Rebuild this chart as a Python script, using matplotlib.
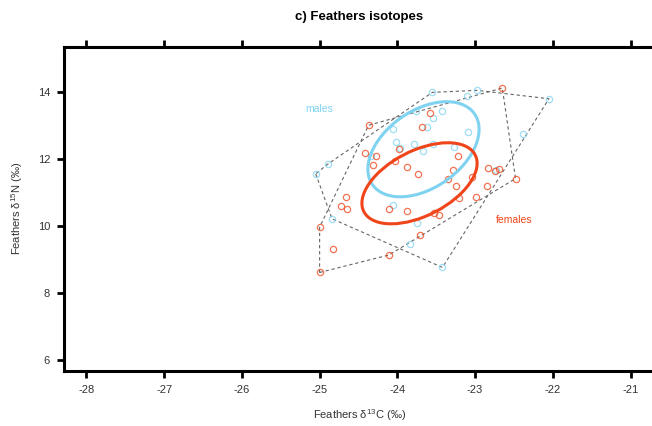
import numpy as np
import matplotlib
matplotlib.use('Agg')
import matplotlib.pyplot as plt
from matplotlib.patches import Ellipse

plt.rcParams['font.family'] = ['Liberation Sans', 'DejaVu Sans']
plt.rcParams['mathtext.fontset'] = 'custom'
plt.rcParams['mathtext.rm'] = 'Liberation Sans'
plt.rcParams['axes.unicode_minus'] = False

# feather isotope values (d13C, d15N) per sex
males_c = [-23.55, -23.11, -22.97, -22.05, -23.76, -23.43, -23.54, -23.62, -24.06,
           -23.09, -22.39, -24.02, -23.79, -23.54, -23.97, -23.27, -23.67, -24.34,
           -24.89, -25.05, -22.73, -24.06, -24.84, -23.75, -23.84, -23.42]
males_n = [13.98, 13.88, 14.04, 13.79, 13.42, 13.42, 13.21, 12.95, 12.89,
           12.80, 12.75, 12.50, 12.45, 12.45, 12.31, 12.34, 12.22, 12.09,
           11.85, 11.55, 11.67, 10.62, 10.21, 10.09, 9.47, 8.76]

females_c = [-22.65, -23.58, -24.37, -23.68, -23.98, -24.41, -24.28, -23.22, -24.03,
             -24.31, -23.88, -23.28, -23.73, -22.84, -22.75, -22.69, -23.35, -23.04,
             -22.48, -23.24, -22.85, -24.66, -23.21, -22.99, -24.72, -24.65, -24.11,
             -23.88, -23.53, -23.46, -25.00, -23.71, -24.83, -24.11, -25.00]
females_n = [14.11, 13.38, 13.00, 12.95, 12.29, 12.16, 12.07, 12.09, 11.93,
             11.80, 11.76, 11.66, 11.56, 11.74, 11.65, 11.69, 11.41, 11.46,
             11.41, 11.19, 11.19, 10.86, 10.84, 10.86, 10.60, 10.50, 10.51,
             10.45, 10.38, 10.33, 9.96, 9.73, 9.32, 9.13, 8.61]

# standard ellipse estimates: centre (d13C, d15N) and covariance (xx, xy, yy)
males_sea_centre = [-23.664, 12.284]
males_sea_cov = [0.5115, 0.424, 2.0106]
females_sea_centre = [-23.715, 11.269]
females_sea_cov = [0.549, 0.44, 1.4616]

col_m = '#7fd3f0'
col_f = '#f0451a'


def convex_hull(pts):
    pts = sorted(map(tuple, pts))

    def cross(o, a, b):
        return (a[0] - o[0]) * (b[1] - o[1]) - (a[1] - o[1]) * (b[0] - o[0])

    lower, upper = [], []
    for p in pts:
        while len(lower) >= 2 and cross(lower[-2], lower[-1], p) <= 0:
            lower.pop()
        lower.append(p)
    for p in reversed(pts):
        while len(upper) >= 2 and cross(upper[-2], upper[-1], p) <= 0:
            upper.pop()
        upper.append(p)
    hull = lower[:-1] + upper[:-1]
    return np.array(hull + [hull[0]])


def standard_ellipse(centre, cov, **kw):
    sxx, sxy, syy = cov
    vals, vecs = np.linalg.eigh(np.array([[sxx, sxy], [sxy, syy]]))
    order = vals.argsort()[::-1]
    vals, vecs = vals[order], vecs[:, order]
    angle = np.degrees(np.arctan2(vecs[1, 0], vecs[0, 0]))
    return Ellipse(centre, 2 * np.sqrt(vals[0]), 2 * np.sqrt(vals[1]),
                   angle=angle, fill=False, **kw)


fig = plt.figure(figsize=(6.52, 4.26), dpi=100)
ax = fig.add_axes([64 / 652, 55 / 426, 592 / 652, 324.5 / 426])

groups = [(males_c, males_n, males_sea_centre, males_sea_cov, col_m),
          (females_c, females_n, females_sea_centre, females_sea_cov, col_f)]
for xs, ys, centre, cov, col in groups:
    hull = convex_hull(np.column_stack([xs, ys]))
    ax.plot(hull[:, 0], hull[:, 1], ls=(0, (3, 2.5)), color='#666666', lw=0.8, zorder=1)
    ax.plot(xs, ys, 'o', mfc='none', mec=col, mew=0.9, ms=4.5, alpha=0.75, zorder=2)
    ax.add_patch(standard_ellipse(centre, cov, edgecolor=col, lw=2.2, zorder=3))

ax.text(-25.0, 13.49, 'males', color=col_m, fontsize=7.5, ha='center', va='center')
ax.text(-22.5, 10.18, 'females', color=col_f, fontsize=7.5, ha='center', va='center')

ax.set_xlim(-28.288, -20.673)
ax.set_ylim(5.672, 15.348)
ax.set_xticks(range(-28, -20))
ax.set_yticks([6, 8, 10, 12, 14])
ax.tick_params(direction='out', length=5, width=2, labelsize=8, colors='black',
               labelcolor='#333333', top=True, right=True, pad=5)
for s in ax.spines.values():
    s.set_linewidth(2.2)

fig.text(359 / 652, 1 - 17 / 426, 'c) Feathers isotopes', ha='center', va='center',
         fontsize=9.5, fontweight='bold')
fig.text(360 / 652, 1 - 415 / 426, r'Feathers δ$^{\mathregular{13}}$C (‰)', ha='center',
         va='center', fontsize=8, color='#333333')
fig.text(17 / 652, 1 - 208 / 426, r'Feathers δ$^{\mathregular{15}}$N (‰)', ha='center',
         va='center', rotation=90, fontsize=8, color='#333333')

plt.savefig('out.png', dpi=100)
plt.close()
